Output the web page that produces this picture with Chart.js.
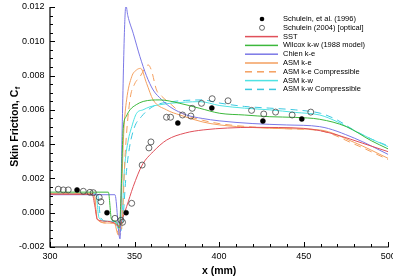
<!DOCTYPE html>
<html><head><meta charset="utf-8">
<script src="https://cdn.jsdelivr.net/npm/chart.js@4.4.0/dist/chart.umd.min.js"></script>
<style>html,body{margin:0;padding:0;background:#fff}#wrap{width:393px;height:280px;position:relative}</style>
</head><body><div id="wrap"><canvas id="c" width="393" height="280"></canvas></div>
<script>
// ---- data ----
const xTickValues = [300, 350, 400, 450, 500];
const yTickValues = [-0.002, 0.000, 0.002, 0.004, 0.006, 0.008, 0.010, 0.012];

const schulein1996X = [316, 333.7, 345, 375.6, 395.7, 425.9, 448.9];
const schulein1996Y = [0.00133, 0.0, 0.0, 0.00523, 0.00611, 0.00535, 0.00547];

const schulein2004X = [304.9, 307.9, 310.8, 319.7, 323.6, 325.6, 329.1, 330.1, 338.4, 342, 342.9, 348.3, 354.5, 358.5, 359.7, 368.9, 371.3, 378.4, 383.3, 384.1, 389.6, 395.9, 405.3, 419.2, 426.4, 433.4, 443.2, 454.2];
const schulein2004Y = [0.00137, 0.00133, 0.00133, 0.00125, 0.00119, 0.00117, 0.0009, 0.00064, -0.00033, -0.00044, -0.00056, 0.00055, 0.00278, 0.00378, 0.00413, 0.00557, 0.00557, 0.0057, 0.00564, 0.00609, 0.00638, 0.00665, 0.00653, 0.00597, 0.00576, 0.00587, 0.0057, 0.00587];

const sstX = [300, 325, 326.5, 328, 334, 338, 341, 343, 345.3, 349.2, 354.5, 361, 369, 380, 390.6, 405, 420, 435, 450, 460, 470, 485, 500];
const sstY = [0.00108, 0.00107, 0.0004, -0.0004, -0.0005, -0.0006, -0.0008, -0.0003, 0.00035, 0.00152, 0.00278, 0.00356, 0.00424, 0.00465, 0.00483, 0.00494, 0.00498, 0.00497, 0.00492, 0.00478, 0.00453, 0.00405, 0.00356];

const wilcoxX = [300, 334.5, 336.4, 339, 341, 342, 343.3, 345, 347.3, 351, 355.1, 365, 376.8, 388.6, 400.4, 415, 430, 445, 459.5, 475.3, 490, 500];
const wilcoxY = [0.0012, 0.0012, -0.0004, -0.0005, -0.0009, 0.0010, 0.0049, 0.0056, 0.0060, 0.0063, 0.00649, 0.00658, 0.00638, 0.00609, 0.0058, 0.0057, 0.0056, 0.00556, 0.00545, 0.00502, 0.0042, 0.00372];

const chienX = [300, 338.4, 341.4, 342.5, 344, 344.9, 346, 349.2, 353.2, 357, 361, 366, 370.9, 380.8, 390, 400, 420, 440, 459.5, 480, 500];
const chienY = [0.00105, 0.00105, -0.00153, 0.004, 0.0105, 0.0121, 0.0115, 0.01047, 0.0091, 0.0080, 0.00716, 0.0066, 0.00618, 0.0057, 0.0055, 0.00536, 0.0052, 0.00512, 0.00502, 0.00435, 0.0034];

const asmKeX = [300, 326, 328, 334, 338, 340.4, 341.5, 343.7, 345.3, 348.3, 351.2, 353.6, 357.1, 361, 368.9, 376.8, 390, 400.4, 420, 440, 459.5, 480, 500];
const asmKeY = [0.0011, 0.0011, -0.0004, -0.0006, -0.0006, -0.0013, -0.0008, 0.00483, 0.00658, 0.00793, 0.00833, 0.00842, 0.00755, 0.00658, 0.006, 0.0057, 0.0053, 0.00512, 0.00497, 0.0049, 0.00483, 0.0041, 0.00317];

const asmKeCX = [300, 326, 328, 334, 338, 341, 342.5, 344.5, 347.3, 350, 353.2, 356, 358.1, 360, 363, 366, 370.9, 378, 390, 400, 420, 440, 460, 480, 500];
const asmKeCY = [0.0011, 0.0011, -0.0004, -0.0006, -0.0006, -0.0013, -0.0008, 0.0035, 0.0066, 0.0075, 0.00793, 0.0084, 0.00862, 0.0083, 0.00716, 0.0068, 0.00638, 0.0058, 0.0054, 0.0052, 0.005, 0.0049, 0.00478, 0.0040, 0.0031];

const asmKwX = [300, 327, 329, 334, 338, 341, 342.5, 344, 346.3, 348, 351.2, 355, 359.1, 365, 370.9, 380, 388.6, 400.4, 415, 430, 445, 459.5, 470, 479.2, 490, 500];
const asmKwY = [0.00112, 0.00112, -0.0003, -0.0005, -0.0005, -0.0010, -0.0004, 0.0025, 0.00424, 0.0049, 0.0058, 0.006, 0.00618, 0.0063, 0.00638, 0.00645, 0.00648, 0.00625, 0.0061, 0.006, 0.00585, 0.0057, 0.0053, 0.00482, 0.0043, 0.00385];

const asmKwCX = [300, 328, 330, 334, 338, 341.5, 343, 345, 347, 350, 354, 358, 363, 370, 380, 390, 400, 415, 430, 445, 460, 470, 480, 490, 500];
const asmKwCY = [0.00112, 0.00112, -0.0003, -0.0005, -0.0005, -0.0011, -0.0005, 0.0022, 0.0038, 0.0050, 0.0056, 0.0060, 0.0063, 0.00645, 0.00655, 0.00658, 0.0064, 0.0062, 0.0061, 0.006, 0.0058, 0.0054, 0.0048, 0.0043, 0.0039];

const seriesLabels = ['Schulein, et al. (1996)', 'Schulein (2004) [optical]', 'SST', 'Wilcox k-w (1988 model)', 'Chien k-e', 'ASM k-e', 'ASM k-e Compressible', 'ASM k-w', 'ASM k-w Compressible'];

// ---- build ----
const pts = (xs, ys) => xs.map((x, i) => ({x, y: ys[i]}));
const FONT = '"Liberation Sans", Arial, Helvetica, sans-serif';

function lineDs(label, xs, ys, color, dash) {
  return {label, data: pts(xs, ys), showLine: true, borderColor: color, backgroundColor: color,
    borderWidth: 1, borderDash: dash || [], pointRadius: 0, cubicInterpolationMode: 'monotone', fill: false,
    legendKind: 'line', legendColor: color, legendDash: !!dash};
}

const datasets = [
  {label: seriesLabels[0], data: pts(schulein1996X, schulein1996Y), pointRadius: 2.5, pointBackgroundColor: '#000', pointBorderColor: '#000', pointBorderWidth: 0.5, showLine: false, legendKind: 'filled'},
  {label: seriesLabels[1], data: pts(schulein2004X, schulein2004Y), pointRadius: 3, pointBackgroundColor: 'rgba(255,255,255,0)', pointBorderColor: '#444', pointBorderWidth: 0.8, showLine: false, legendKind: 'open'},
  lineDs(seriesLabels[2], sstX, sstY, '#e0505a'),
  lineDs(seriesLabels[3], wilcoxX, wilcoxY, '#3cb83c'),
  lineDs(seriesLabels[4], chienX, chienY, '#7b78e6'),
  lineDs(seriesLabels[5], asmKeX, asmKeY, '#f4a060'),
  lineDs(seriesLabels[6], asmKeCX, asmKeCY, '#f4a060', [7, 5]),
  lineDs(seriesLabels[7], asmKwX, asmKwY, '#4fe3e3'),
  lineDs(seriesLabels[8], asmKwCX, asmKwCY, '#3cc8e0', [7, 5])
];
const legendInfo = datasets.map(d => ({label: d.label, kind: d.legendKind, color: d.legendColor, dash: d.legendDash}));

const decor = {
  id: 'decor',
  afterDraw(chart) {
    const ctx = chart.ctx, xs = chart.scales.x, ys = chart.scales.y;
    const L = xs.left, R = xs.right, T = ys.top, B = ys.bottom;
    ctx.save();
    ctx.setLineDash([]);
    ctx.strokeStyle = '#000';
    ctx.lineWidth = 1.2;
    ctx.beginPath();
    ctx.moveTo(L, T); ctx.lineTo(L, B); ctx.lineTo(R + 0.5, B);
    ctx.stroke();
    ctx.lineWidth = 1;
    ctx.beginPath();
    for (let i = 0; i <= 20; i++) {
      const v = 300 + i * 10;
      const p = Math.round(xs.getPixelForValue(v)) + 0.5;
      const len = i % 5 === 0 ? 5 : 3;
      ctx.moveTo(p, B); ctx.lineTo(p, B - len);
    }
    for (let i = 0; i <= 28; i++) {
      const v = -0.002 + i * 0.0005;
      const p = Math.round(ys.getPixelForValue(v)) + 0.5;
      const len = i % 4 === 0 ? 5 : 3;
      ctx.moveTo(L, p); ctx.lineTo(L + len, p);
    }
    ctx.stroke();

    // axis titles
    ctx.fillStyle = '#000';
    ctx.font = 'bold 10.5px ' + FONT;
    ctx.textAlign = 'center';
    ctx.textBaseline = 'middle';
    ctx.fillText('x (mm)', (L + R) / 2, 271);

    ctx.save();
    ctx.translate(15, (T + B) / 2);
    ctx.rotate(-Math.PI / 2);
    const main = 'Skin Friction, C';
    ctx.font = 'bold 10.5px ' + FONT;
    const w1 = ctx.measureText(main).width;
    ctx.font = 'bold 7.5px ' + FONT;
    const w2 = ctx.measureText('f').width;
    const x0 = -(w1 + w2) / 2;
    ctx.textAlign = 'left';
    ctx.font = 'bold 10.5px ' + FONT;
    ctx.fillText(main, x0, 0);
    ctx.font = 'bold 7.5px ' + FONT;
    ctx.fillText('f', x0 + w1 + 0.5, 3);
    ctx.restore();

    // legend
    const lx0 = 245, lx1 = 278, mx = 262, tx = 283;
    const y0 = 19, dy = 8.8;
    ctx.textAlign = 'left';
    ctx.textBaseline = 'middle';
    legendInfo.forEach((it, i) => {
      const y = y0 + i * dy;
      if (it.kind === 'filled') {
        ctx.beginPath(); ctx.arc(mx, y, 2.3, 0, Math.PI * 2); ctx.fillStyle = '#000'; ctx.fill();
      } else if (it.kind === 'open') {
        ctx.beginPath(); ctx.arc(mx, y, 2.5, 0, Math.PI * 2);
        ctx.strokeStyle = '#444'; ctx.lineWidth = 0.8; ctx.setLineDash([]); ctx.stroke();
      } else {
        ctx.fillStyle = it.color;
        if (it.dash) {
          for (let s = lx0; s < lx1; s += 12) ctx.fillRect(s, y - 0.75, Math.min(7, lx1 - s), 1.5);
        } else {
          ctx.fillRect(lx0, y - 0.75, lx1 - lx0, 1.5);
        }
      }
      ctx.fillStyle = '#000';
      ctx.font = '7.5px ' + FONT;
      ctx.fillText(it.label, tx, y);
    });
    ctx.restore();
  }
};

new Chart(document.getElementById('c'), {
  type: 'scatter',
  data: {datasets},
  options: {
    responsive: false,
    devicePixelRatio: 1,
    animation: false,
    layout: {padding: {top: 7, right: 4.5, left: 0, bottom: 0}},
    plugins: {legend: {display: false}, tooltip: {enabled: false}},
    scales: {
      x: {
        type: 'linear', min: 300, max: 500,
        grid: {display: false, drawTicks: false}, border: {display: false},
        afterBuildTicks: s => { s.ticks = xTickValues.map(v => ({value: v})); },
        afterFit: s => { s.height = 33; s.paddingLeft = 0; s.paddingRight = 0; },
        ticks: {color: '#000', font: {family: FONT, size: 9}, padding: 4, maxRotation: 0, autoSkip: false,
          callback: v => String(v)}
      },
      y: {
        type: 'linear', min: -0.002, max: 0.012,
        grid: {display: false, drawTicks: false}, border: {display: false},
        afterBuildTicks: s => { s.ticks = yTickValues.map(v => ({value: v})); },
        afterFit: s => { s.width = 50; s.paddingTop = 0; s.paddingBottom = 0; },
        ticks: {color: '#000', font: {family: FONT, size: 9}, padding: 5.5, autoSkip: false,
          callback: v => Number(v).toFixed(3)}
      }
    }
  },
  plugins: [decor]
});
</script></body></html>
